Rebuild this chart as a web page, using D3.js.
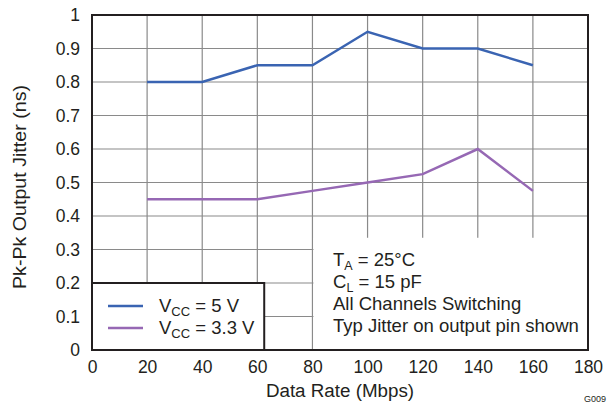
<!DOCTYPE html>
<html><head><meta charset="utf-8">
<script src="https://cdn.jsdelivr.net/npm/d3@7"></script>
<style>
body{margin:0;background:#fff;}
text{font-family:"Liberation Sans",Arial,sans-serif;fill:#231f20;}
</style></head>
<body><svg id="c" width="608" height="404"></svg>
<script>
const dataRate = [20,40,60,80,100,120,140,160];
const jitter5V = [0.8,0.8,0.85,0.85,0.95,0.9,0.9,0.85];
const jitter33V = [0.45,0.45,0.45,0.475,0.5,0.525,0.6,0.475];
const xTicks = [0,20,40,60,80,100,120,140,160,180];
const yTicks = [0,0.1,0.2,0.3,0.4,0.5,0.6,0.7,0.8,0.9,1];
const seriesNames = ["5 V","3.3 V"];
const colors = ["#3a64b2","#9668b4"];

const svg = d3.select("#c");
const m = {l:92,r:588,t:15,b:350};
const x = d3.scaleLinear().domain([0,180]).range([m.l,m.r]);
const y = d3.scaleLinear().domain([0,1]).range([m.b,m.t]);

// grid
const g = svg.append("g");
g.selectAll("line.v").data(xTicks.slice(1,-1)).join("line")
  .attr("x1",d=>x(d)).attr("x2",d=>x(d)).attr("y1",m.t).attr("y2",m.b)
  .attr("stroke","#8a8a8a").attr("stroke-width",1.2);
g.selectAll("line.h").data(yTicks.slice(1,-1)).join("line")
  .attr("x1",m.l).attr("x2",m.r).attr("y1",d=>y(d)).attr("y2",d=>y(d))
  .attr("stroke","#8a8a8a").attr("stroke-width",1.2);

// annotation box (white, covers grid)
svg.append("rect").attr("x",x(80)+1).attr("y",y(0.335)).attr("width",m.r-x(80)-1).attr("height",m.b-y(0.335))
  .attr("fill","#fff");

// lines
const line = d3.line().x((d,i)=>x(dataRate[i])).y(d=>y(d));
[jitter5V,jitter33V].forEach((s,i)=>{
  svg.append("path").attr("d",line(s)).attr("fill","none")
    .attr("stroke",colors[i]).attr("stroke-width",2.5);
});

// legend box
const lg = svg.append("g");
lg.append("rect").attr("x",m.l).attr("y",y(0.2)).attr("width",x(62.5)-m.l).attr("height",m.b-y(0.2))
  .attr("fill","#fff").attr("stroke","#231f20").attr("stroke-width",2);
[0,1].forEach(i=>{
  const yy = 306 + i*22;
  lg.append("line").attr("x1",108).attr("x2",143).attr("y1",yy).attr("y2",yy)
    .attr("stroke",colors[i]).attr("stroke-width",2.5);
  const t = lg.append("text").attr("x",159).attr("y",yy+6).attr("font-size",18.5);
  t.append("tspan").text("V");
  t.append("tspan").attr("font-size",13).attr("dy",4).text("CC");
  t.append("tspan").attr("dy",-4).text(" = "+seriesNames[i]);
});

// frame
svg.append("rect").attr("x",m.l).attr("y",m.t).attr("width",m.r-m.l).attr("height",m.b-m.t)
  .attr("fill","none").attr("stroke","#231f20").attr("stroke-width",2);

// axes
const xa = svg.append("g").attr("transform",`translate(0,${m.b})`)
  .call(d3.axisBottom(x).tickValues(xTicks).tickSize(0).tickPadding(11).tickFormat(d3.format("d")));
xa.select(".domain").remove();
xa.selectAll("text").attr("font-size",17.5).attr("font-family","Liberation Sans, Arial, sans-serif").attr("fill","#231f20");
const ya = svg.append("g").attr("transform",`translate(${m.l},0)`)
  .call(d3.axisLeft(y).tickValues(yTicks).tickSize(0).tickPadding(12).tickFormat(d=>d===0?"0":d===1?"1":d3.format(".1f")(d)));
ya.select(".domain").remove();
ya.selectAll("text").attr("font-size",17.5).attr("font-family","Liberation Sans, Arial, sans-serif").attr("fill","#231f20");

// titles
svg.append("text").attr("x",340).attr("y",397).attr("text-anchor","middle").attr("font-size",18.8).text("Data Rate (Mbps)");
svg.append("text").attr("transform","translate(26,187) rotate(-90)").attr("text-anchor","middle").attr("font-size",18)
  .attr("textLength",204).attr("lengthAdjust","spacingAndGlyphs").text("Pk-Pk Output Jitter (ns)");
svg.append("text").attr("x",584).attr("y",402).attr("font-size",9).attr("fill","#444").text("G009");

// annotation
const ax = 333;
const a1 = svg.append("text").attr("x",ax).attr("y",266).attr("font-size",18.5);
a1.append("tspan").text("T");
a1.append("tspan").attr("font-size",12.5).attr("dy",3.5).text("A");
a1.append("tspan").attr("dy",-3.5).text(" = 25°C");
const a2 = svg.append("text").attr("x",ax).attr("y",288).attr("font-size",18.5);
a2.append("tspan").text("C");
a2.append("tspan").attr("font-size",12.5).attr("dy",3.5).text("L");
a2.append("tspan").attr("dy",-3.5).text(" = 15 pF");
svg.append("text").attr("x",ax).attr("y",310).attr("font-size",18.5).text("All Channels Switching");
svg.append("text").attr("x",ax).attr("y",332).attr("font-size",18.5).text("Typ Jitter on output pin shown");
</script></body></html>
